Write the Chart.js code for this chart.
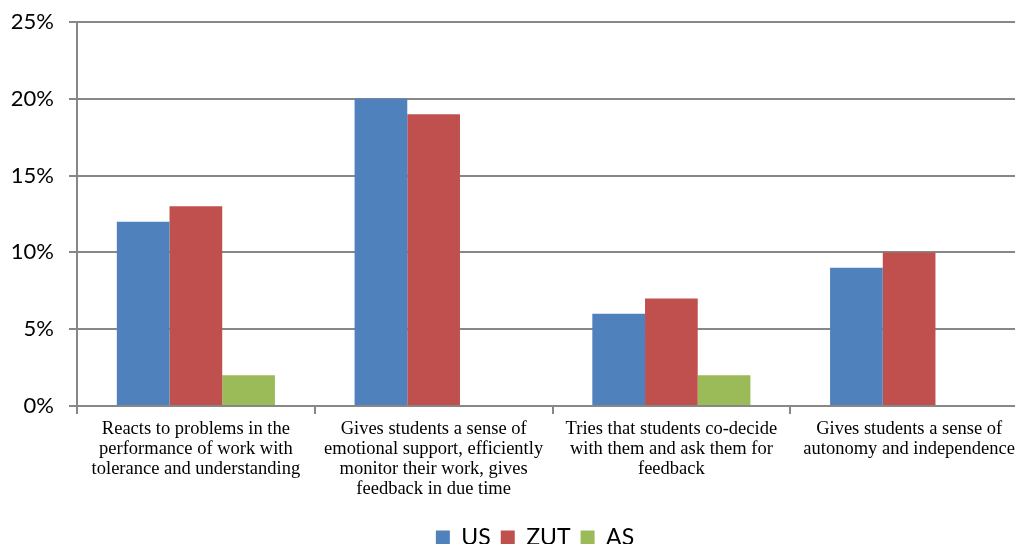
<!DOCTYPE html>
<html>
<head>
<meta charset="utf-8">
<script src="https://cdn.jsdelivr.net/npm/chart.js@4/dist/chart.umd.min.js"></script>
<style>
  html, body { margin: 0; padding: 0; background: #fff; overflow: hidden; }
  #wrap { width: 1030px; height: 544px; }
</style>
</head>
<body>
<div id="wrap"><canvas id="myChart" width="1030" height="544"></canvas></div>
<script>
const categories = [
  ['Reacts to problems in the', 'performance of work with', 'tolerance and understanding'],
  ['Gives students a sense of', 'emotional support, efficiently', 'monitor their work, gives', 'feedback in due time'],
  ['Tries that students co-decide', 'with them and ask them for', 'feedback'],
  ['Gives students a sense of', 'autonomy and independence']
];
const usValues = [12, 20, 6, 9];
const zutValues = [13, 19, 7, 10];
const asValues = [2, 0, 2, 0];
const yTicks = [0, 5, 10, 15, 20, 25];

const gridGray = '#878787';

// nudge the legend a bit right and down, like in the original
const legendShift = {
  id: 'legendShift',
  afterLayout(chart) {
    const lg = chart.legend;
    if (!lg) return;
    lg.left += 21; lg.right += 21;
    lg.top += 15; lg.bottom += 15;
  }
};

const ctx = document.getElementById('myChart').getContext('2d');
const myChart = new Chart(ctx, {
  type: 'bar',
  data: {
    labels: categories,
    datasets: [
      { label: 'US', data: usValues, backgroundColor: '#4F81BD' },
      { label: 'ZUT', data: zutValues, backgroundColor: '#C0504D' },
      { label: 'AS', data: asValues, backgroundColor: '#9BBB59' }
    ]
  },
  plugins: [legendShift],
  options: {
    responsive: false,
    animation: false,
    devicePixelRatio: 1,
    layout: { padding: { top: 22, left: 0, right: 2, bottom: 0 } },
    datasets: { bar: { barPercentage: 1, categoryPercentage: 0.665 } },
    plugins: {
      tooltip: { enabled: false },
      legend: {
        position: 'bottom',
        labels: {
          color: '#000',
          font: { family: 'Lato', size: 23 },
          boxWidth: 14,
          boxHeight: 14,
          padding: 10
        }
      }
    },
    scales: {
      x: {
        grid: {
          drawOnChartArea: false,
          drawTicks: true,
          tickLength: 8,
          color: gridGray,
          lineWidth: 2
        },
        border: { color: gridGray, width: 2 },
        ticks: {
          color: '#000',
          font: { family: 'Liberation Serif', size: 18.5, lineHeight: 1.081 },
          padding: 5,
          maxRotation: 0,
          autoSkip: false
        },
        afterFit: (axis) => { axis.height = 95; }
      },
      y: {
        min: 0,
        max: 25,
        afterBuildTicks: (axis) => { axis.ticks = yTicks.map(v => ({ value: v })); },
        grid: {
          color: gridGray,
          lineWidth: 2,
          tickLength: 8
        },
        border: { color: gridGray, width: 2 },
        ticks: {
          color: '#000',
          font: { family: 'Lato', size: 22 },
          padding: 15,
          callback: (v) => v + '%'
        },
        afterFit: (axis) => {
          axis.width = 77;
          axis.paddingTop = 0;
          axis.paddingBottom = 0;
        }
      }
    }
  }
});
</script>
</body>
</html>
